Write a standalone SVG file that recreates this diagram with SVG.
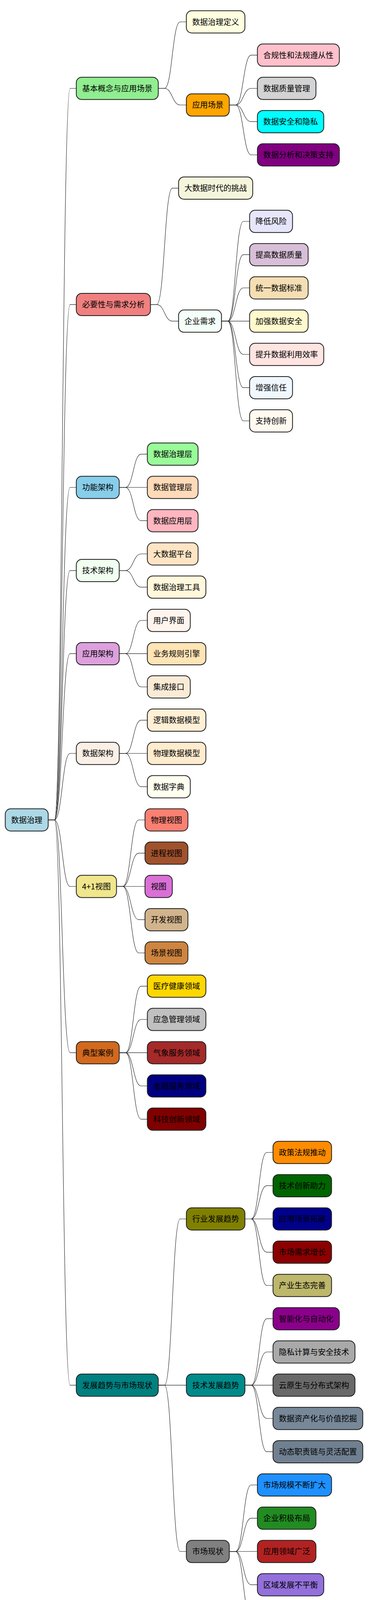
<svg xmlns="http://www.w3.org/2000/svg" width="948" height="4202" viewBox="0 0 948 4202">
<style>
.n rect{stroke:#1c1c1c;stroke-width:2}
.n text{font-family:"Noto Sans CJK SC","Noto Sans",sans-serif;font-size:20px;text-anchor:middle;fill:#000}
.c path{fill:none;stroke:#1e1e1e;stroke-width:1.1}
.wm{font-family:"Liberation Sans",Arial,"Noto Sans CJK SC",sans-serif;font-size:16px;fill:#c4c4c4}
</style>
<rect x="0" y="0" width="948" height="4202" fill="#ffffff"/>
<g id="connectors" class="c">
<path d="M123.5 2099 H139.5 C159.5 2099 159.5 226.3 179.5 226.3 H195.5"/>
<path d="M123.5 2099 H139.5 C159.5 2099 159.5 779.6 179.5 779.6 H195.5"/>
<path d="M123.5 2099 H139.5 C159.5 2099 159.5 1247.8 179.5 1247.8 H195.5"/>
<path d="M123.5 2099 H139.5 C159.5 2099 159.5 1460.6 179.5 1460.6 H195.5"/>
<path d="M123.5 2099 H139.5 C159.5 2099 159.5 1673.4 179.5 1673.4 H195.5"/>
<path d="M123.5 2099 H139.5 C159.5 2099 159.5 1928.8 179.5 1928.8 H195.5"/>
<path d="M123.5 2099 H139.5 C159.5 2099 159.5 2269.3 179.5 2269.3 H195.5"/>
<path d="M123.5 2099 H139.5 C159.5 2099 159.5 2694.9 179.5 2694.9 H195.5"/>
<path d="M123.5 2099 H139.5 C159.5 2099 159.5 3546.1 179.5 3546.1 H195.5"/>
<path d="M405.5 226.3 H421.5 C441.5 226.3 441.5 56 461.5 56 H477.5"/>
<path d="M405.5 226.3 H421.5 C441.5 226.3 441.5 268.8 461.5 268.8 H477.5"/>
<path d="M587.5 268.8 H603.5 C623.5 268.8 623.5 141.1 643.5 141.1 H659.5"/>
<path d="M587.5 268.8 H603.5 C623.5 268.8 623.5 226.3 643.5 226.3 H659.5"/>
<path d="M587.5 268.8 H603.5 C623.5 268.8 623.5 311.4 643.5 311.4 H659.5"/>
<path d="M587.5 268.8 H603.5 C623.5 268.8 623.5 396.5 643.5 396.5 H659.5"/>
<path d="M385.5 779.6 H401.5 C421.5 779.6 421.5 481.6 441.5 481.6 H457.5"/>
<path d="M385.5 779.6 H401.5 C421.5 779.6 421.5 822.1 441.5 822.1 H457.5"/>
<path d="M567.5 822.1 H583.5 C603.5 822.1 603.5 566.8 623.5 566.8 H639.5"/>
<path d="M567.5 822.1 H583.5 C603.5 822.1 603.5 651.9 623.5 651.9 H639.5"/>
<path d="M567.5 822.1 H583.5 C603.5 822.1 603.5 737 623.5 737 H639.5"/>
<path d="M567.5 822.1 H639.5"/>
<path d="M567.5 822.1 H583.5 C603.5 822.1 603.5 907.3 623.5 907.3 H639.5"/>
<path d="M567.5 822.1 H583.5 C603.5 822.1 603.5 992.4 623.5 992.4 H639.5"/>
<path d="M567.5 822.1 H583.5 C603.5 822.1 603.5 1077.5 623.5 1077.5 H639.5"/>
<path d="M305.5 1247.8 H321.5 C341.5 1247.8 341.5 1162.6 361.5 1162.6 H377.5"/>
<path d="M305.5 1247.8 H377.5"/>
<path d="M305.5 1247.8 H321.5 C341.5 1247.8 341.5 1332.9 361.5 1332.9 H377.5"/>
<path d="M305.5 1460.6 H321.5 C341.5 1460.6 341.5 1418 361.5 1418 H377.5"/>
<path d="M305.5 1460.6 H321.5 C341.5 1460.6 341.5 1503.1 361.5 1503.1 H377.5"/>
<path d="M305.5 1673.4 H321.5 C341.5 1673.4 341.5 1588.3 361.5 1588.3 H377.5"/>
<path d="M305.5 1673.4 H377.5"/>
<path d="M305.5 1673.4 H321.5 C341.5 1673.4 341.5 1758.5 361.5 1758.5 H377.5"/>
<path d="M305.5 1928.8 H321.5 C341.5 1928.8 341.5 1843.6 361.5 1843.6 H377.5"/>
<path d="M305.5 1928.8 H377.5"/>
<path d="M305.5 1928.8 H321.5 C341.5 1928.8 341.5 2013.9 361.5 2013.9 H377.5"/>
<path d="M298.5 2269.3 H314.5 C335 2269.3 335 2099 355.5 2099 H371.5"/>
<path d="M298.5 2269.3 H314.5 C335 2269.3 335 2184.1 355.5 2184.1 H371.5"/>
<path d="M298.5 2269.3 H371.5"/>
<path d="M298.5 2269.3 H314.5 C335 2269.3 335 2354.4 355.5 2354.4 H371.5"/>
<path d="M298.5 2269.3 H314.5 C335 2269.3 335 2439.5 355.5 2439.5 H371.5"/>
<path d="M305.5 2694.9 H321.5 C341.5 2694.9 341.5 2524.6 361.5 2524.6 H377.5"/>
<path d="M305.5 2694.9 H321.5 C341.5 2694.9 341.5 2609.8 361.5 2609.8 H377.5"/>
<path d="M305.5 2694.9 H377.5"/>
<path d="M305.5 2694.9 H321.5 C341.5 2694.9 341.5 2780 361.5 2780 H377.5"/>
<path d="M305.5 2694.9 H321.5 C341.5 2694.9 341.5 2865.1 361.5 2865.1 H377.5"/>
<path d="M405.5 3546.1 H421.5 C441.5 3546.1 441.5 3120.5 461.5 3120.5 H477.5"/>
<path d="M405.5 3546.1 H477.5"/>
<path d="M405.5 3546.1 H421.5 C441.5 3546.1 441.5 3971.8 461.5 3971.8 H477.5"/>
<path d="M627.5 3120.5 H643.5 C663.5 3120.5 663.5 2950.3 683.5 2950.3 H699.5"/>
<path d="M627.5 3120.5 H643.5 C663.5 3120.5 663.5 3035.4 683.5 3035.4 H699.5"/>
<path d="M627.5 3120.5 H699.5"/>
<path d="M627.5 3120.5 H643.5 C663.5 3120.5 663.5 3205.6 683.5 3205.6 H699.5"/>
<path d="M627.5 3120.5 H643.5 C663.5 3120.5 663.5 3290.8 683.5 3290.8 H699.5"/>
<path d="M627.5 3546.1 H643.5 C663.5 3546.1 663.5 3375.9 683.5 3375.9 H699.5"/>
<path d="M627.5 3546.1 H643.5 C663.5 3546.1 663.5 3461 683.5 3461 H699.5"/>
<path d="M627.5 3546.1 H699.5"/>
<path d="M627.5 3546.1 H643.5 C663.5 3546.1 663.5 3631.3 683.5 3631.3 H699.5"/>
<path d="M627.5 3546.1 H643.5 C663.5 3546.1 663.5 3716.4 683.5 3716.4 H699.5"/>
<path d="M587.5 3971.8 H603.5 C623.5 3971.8 623.5 3801.5 643.5 3801.5 H659.5"/>
<path d="M587.5 3971.8 H603.5 C623.5 3971.8 623.5 3886.6 643.5 3886.6 H659.5"/>
<path d="M587.5 3971.8 H659.5"/>
<path d="M587.5 3971.8 H603.5 C623.5 3971.8 623.5 4056.9 643.5 4056.9 H659.5"/>
<path d="M587.5 3971.8 H603.5 C623.5 3971.8 623.5 4142 643.5 4142 H659.5"/>
</g>

<g id="root" class="n"><rect x="13.5" y="2070.5" width="110" height="57" rx="14" fill="#ADD8E6"/><text x="68.5" y="2106.6">数据治理</text></g>

<g id="n-jbgn" class="n"><rect x="195.5" y="197.8" width="210" height="57" rx="14" fill="#90EE90"/><text x="300.5" y="233.9">基本概念与应用场景</text></g>
<g id="n-sjzldy" class="n"><rect x="477.5" y="27.5" width="150" height="57" rx="14" fill="#FFFFE0"/><text x="552.5" y="63.6">数据治理定义</text></g>
<g id="n-yycj" class="n"><rect x="477.5" y="240.3" width="110" height="57" rx="14" fill="#FFA500"/><text x="532.5" y="276.4">应用场景</text></g>
<g id="n-hgx" class="n"><rect x="659.5" y="112.6" width="210" height="57" rx="14" fill="#FFC0CB"/><text x="764.5" y="148.7">合规性和法规遵从性</text></g>
<g id="n-sjzlgl" class="n"><rect x="659.5" y="197.8" width="150" height="57" rx="14" fill="#D3D3D3"/><text x="734.5" y="233.9">数据质量管理</text></g>
<g id="n-sjaq" class="n"><rect x="659.5" y="282.9" width="170" height="57" rx="14" fill="#00FFFF"/><text x="744.5" y="319">数据安全和隐私</text></g>
<g id="n-sjfx" class="n"><rect x="659.5" y="368" width="210" height="57" rx="14" fill="#800080"/><text x="764.5" y="404.1">数据分析和决策支持</text></g>

<g id="n-byx" class="n"><rect x="195.5" y="751.1" width="190" height="57" rx="14" fill="#F08080"/><text x="290.5" y="787.2">必要性与需求分析</text></g>
<g id="n-dsj" class="n"><rect x="457.5" y="453.1" width="190" height="57" rx="14" fill="#F5F5DC"/><text x="552.5" y="489.2">大数据时代的挑战</text></g>
<g id="n-qyxq" class="n"><rect x="457.5" y="793.6" width="110" height="57" rx="14" fill="#F5FFFA"/><text x="512.5" y="829.7">企业需求</text></g>
<g id="n-ddfx" class="n"><rect x="639.5" y="538.3" width="110" height="57" rx="14" fill="#E6E6FA"/><text x="694.5" y="574.4">降低风险</text></g>
<g id="n-tgsjzl" class="n"><rect x="639.5" y="623.4" width="150" height="57" rx="14" fill="#D8BFD8"/><text x="714.5" y="659.5">提高数据质量</text></g>
<g id="n-tysjbz" class="n"><rect x="639.5" y="708.5" width="150" height="57" rx="14" fill="#F5DEB3"/><text x="714.5" y="744.6">统一数据标准</text></g>
<g id="n-jqsjaq" class="n"><rect x="639.5" y="793.6" width="150" height="57" rx="14" fill="#FFFACD"/><text x="714.5" y="829.7">加强数据安全</text></g>
<g id="n-tssjly" class="n"><rect x="639.5" y="878.8" width="190" height="57" rx="14" fill="#FFE4E1"/><text x="734.5" y="914.9">提升数据利用效率</text></g>
<g id="n-zqxr" class="n"><rect x="639.5" y="963.9" width="110" height="57" rx="14" fill="#F0F8FF"/><text x="694.5" y="1000">增强信任</text></g>
<g id="n-zccx" class="n"><rect x="639.5" y="1049" width="110" height="57" rx="14" fill="#FFFAF0"/><text x="694.5" y="1085.1">支持创新</text></g>

<g id="n-gnjg" class="n"><rect x="195.5" y="1219.3" width="110" height="57" rx="14" fill="#87CEEB"/><text x="250.5" y="1255.4">功能架构</text></g>
<g id="n-sjzlc" class="n"><rect x="377.5" y="1134.1" width="130" height="57" rx="14" fill="#98FB98"/><text x="442.5" y="1170.2">数据治理层</text></g>
<g id="n-sjglc" class="n"><rect x="377.5" y="1219.3" width="130" height="57" rx="14" fill="#FFDAB9"/><text x="442.5" y="1255.4">数据管理层</text></g>
<g id="n-sjyyc" class="n"><rect x="377.5" y="1304.4" width="130" height="57" rx="14" fill="#FFB6C1"/><text x="442.5" y="1340.5">数据应用层</text></g>

<g id="n-jsjg" class="n"><rect x="195.5" y="1432.1" width="110" height="57" rx="14" fill="#F0FFF0"/><text x="250.5" y="1468.2">技术架构</text></g>
<g id="n-dsjpt" class="n"><rect x="377.5" y="1389.5" width="130" height="57" rx="14" fill="#FFE4C4"/><text x="442.5" y="1425.6">大数据平台</text></g>
<g id="n-sjzlgj" class="n"><rect x="377.5" y="1474.6" width="150" height="57" rx="14" fill="#FFF8DC"/><text x="452.5" y="1510.7">数据治理工具</text></g>

<g id="n-yyjg" class="n"><rect x="195.5" y="1644.9" width="110" height="57" rx="14" fill="#DDA0DD"/><text x="250.5" y="1681">应用架构</text></g>
<g id="n-yhjm" class="n"><rect x="377.5" y="1559.8" width="110" height="57" rx="14" fill="#FFF5EE"/><text x="432.5" y="1595.9">用户界面</text></g>
<g id="n-ywgz" class="n"><rect x="377.5" y="1644.9" width="150" height="57" rx="14" fill="#FFE4B5"/><text x="452.5" y="1681">业务规则引擎</text></g>
<g id="n-jcjk" class="n"><rect x="377.5" y="1730" width="110" height="57" rx="14" fill="#FAEBD7"/><text x="432.5" y="1766.1">集成接口</text></g>

<g id="n-sjjg" class="n"><rect x="195.5" y="1900.3" width="110" height="57" rx="14" fill="#FAF0E6"/><text x="250.5" y="1936.4">数据架构</text></g>
<g id="n-ljsjmx" class="n"><rect x="377.5" y="1815.1" width="150" height="57" rx="14" fill="#FFEFD5"/><text x="452.5" y="1851.2">逻辑数据模型</text></g>
<g id="n-wlsjmx" class="n"><rect x="377.5" y="1900.3" width="150" height="57" rx="14" fill="#FFEBCD"/><text x="452.5" y="1936.4">物理数据模型</text></g>
<g id="n-sjzd" class="n"><rect x="377.5" y="1985.4" width="110" height="57" rx="14" fill="#FFFFF0"/><text x="432.5" y="2021.5">数据字典</text></g>

<g id="n-41st" class="n"><rect x="195.5" y="2240.8" width="103" height="57" rx="14" fill="#F0E68C"/><text x="247" y="2276.9">4+1视图</text></g>
<g id="n-wlst" class="n"><rect x="371.5" y="2070.5" width="110" height="57" rx="14" fill="#FA8072"/><text x="426.5" y="2106.6">物理视图</text></g>
<g id="n-jcst" class="n"><rect x="371.5" y="2155.6" width="110" height="57" rx="14" fill="#A0522D"/><text x="426.5" y="2191.7">进程视图</text></g>
<g id="n-st" class="n"><rect x="371.5" y="2240.8" width="70" height="57" rx="14" fill="#DA70D6"/><text x="406.5" y="2276.9">视图</text></g>
<g id="n-kfst" class="n"><rect x="371.5" y="2325.9" width="110" height="57" rx="14" fill="#D2B48C"/><text x="426.5" y="2362">开发视图</text></g>
<g id="n-cjst" class="n"><rect x="371.5" y="2411" width="110" height="57" rx="14" fill="#CD853F"/><text x="426.5" y="2447.1">场景视图</text></g>

<g id="n-dxal" class="n"><rect x="195.5" y="2666.4" width="110" height="57" rx="14" fill="#D2691E"/><text x="250.5" y="2702.5">典型案例</text></g>
<g id="n-yljk" class="n"><rect x="377.5" y="2496.1" width="150" height="57" rx="14" fill="#FFD700"/><text x="452.5" y="2532.2">医疗健康领域</text></g>
<g id="n-yjgl" class="n"><rect x="377.5" y="2581.3" width="150" height="57" rx="14" fill="#C0C0C0"/><text x="452.5" y="2617.4">应急管理领域</text></g>
<g id="n-qxfw" class="n"><rect x="377.5" y="2666.4" width="150" height="57" rx="14" fill="#A52A2A"/><text x="452.5" y="2702.5">气象服务领域</text></g>
<g id="n-jrfw" class="n"><rect x="377.5" y="2751.5" width="150" height="57" rx="14" fill="#000080"/><text x="452.5" y="2787.6">金融服务领域</text></g>
<g id="n-kjcx" class="n"><rect x="377.5" y="2836.6" width="150" height="57" rx="14" fill="#800000"/><text x="452.5" y="2872.7">科技创新领域</text></g>

<g id="n-fzqs" class="n"><rect x="195.5" y="3517.6" width="210" height="57" rx="14" fill="#008080"/><text x="300.5" y="3553.7">发展趋势与市场现状</text></g>
<g id="n-hyfzqs" class="n"><rect x="477.5" y="3092" width="150" height="57" rx="14" fill="#808000"/><text x="552.5" y="3128.1">行业发展趋势</text></g>
<g id="n-zcfg" class="n"><rect x="699.5" y="2921.8" width="150" height="57" rx="14" fill="#FF8C00"/><text x="774.5" y="2957.9">政策法规推动</text></g>
<g id="n-jscx" class="n"><rect x="699.5" y="3006.9" width="150" height="57" rx="14" fill="#006400"/><text x="774.5" y="3043">技术创新助力</text></g>
<g id="n-yycjtz" class="n"><rect x="699.5" y="3092" width="150" height="57" rx="14" fill="#00008B"/><text x="774.5" y="3128.1">应用场景拓展</text></g>
<g id="n-scxq" class="n"><rect x="699.5" y="3177.1" width="150" height="57" rx="14" fill="#8B0000"/><text x="774.5" y="3213.2">市场需求增长</text></g>
<g id="n-cyst" class="n"><rect x="699.5" y="3262.3" width="150" height="57" rx="14" fill="#BDB76B"/><text x="774.5" y="3298.4">产业生态完善</text></g>

<g id="n-jsfzqs" class="n"><rect x="477.5" y="3517.6" width="150" height="57" rx="14" fill="#008B8B"/><text x="552.5" y="3553.7">技术发展趋势</text></g>
<g id="n-znh" class="n"><rect x="699.5" y="3347.4" width="170" height="57" rx="14" fill="#8B008B"/><text x="784.5" y="3383.5">智能化与自动化</text></g>
<g id="n-ysjs" class="n"><rect x="699.5" y="3432.5" width="210" height="57" rx="14" fill="#A9A9A9"/><text x="804.5" y="3468.6">隐私计算与安全技术</text></g>
<g id="n-yys" class="n"><rect x="699.5" y="3517.6" width="210" height="57" rx="14" fill="#696969"/><text x="804.5" y="3553.7">云原生与分布式架构</text></g>
<g id="n-sjzch" class="n"><rect x="699.5" y="3602.8" width="230" height="57" rx="14" fill="#778899"/><text x="814.5" y="3638.9">数据资产化与价值挖掘</text></g>
<g id="n-dtzz" class="n"><rect x="699.5" y="3687.9" width="230" height="57" rx="14" fill="#708090"/><text x="814.5" y="3724">动态职责链与灵活配置</text></g>

<g id="n-scxz" class="n"><rect x="477.5" y="3943.3" width="110" height="57" rx="14" fill="#808080"/><text x="532.5" y="3979.4">市场现状</text></g>
<g id="n-scgm" class="n"><rect x="659.5" y="3773" width="190" height="57" rx="14" fill="#1E90FF"/><text x="754.5" y="3809.1">市场规模不断扩大</text></g>
<g id="n-qyjj" class="n"><rect x="659.5" y="3858.1" width="150" height="57" rx="14" fill="#228B22"/><text x="734.5" y="3894.2">企业积极布局</text></g>
<g id="n-yyly" class="n"><rect x="659.5" y="3943.3" width="150" height="57" rx="14" fill="#B22222"/><text x="734.5" y="3979.4">应用领域广泛</text></g>
<g id="n-qyfz" class="n"><rect x="659.5" y="4028.4" width="170" height="57" rx="14" fill="#9370DB"/><text x="744.5" y="4064.5">区域发展不平衡</text></g>
<g id="n-rcdq" class="n"><rect x="659.5" y="4113.5" width="190" height="57" rx="14" fill="#3CB371"/><text x="754.5" y="4149.6">人才短缺问题突出</text></g>

<text class="wm" x="789" y="4191" textLength="154" lengthAdjust="spacingAndGlyphs">CSDN @shinelord明</text>
</svg>
